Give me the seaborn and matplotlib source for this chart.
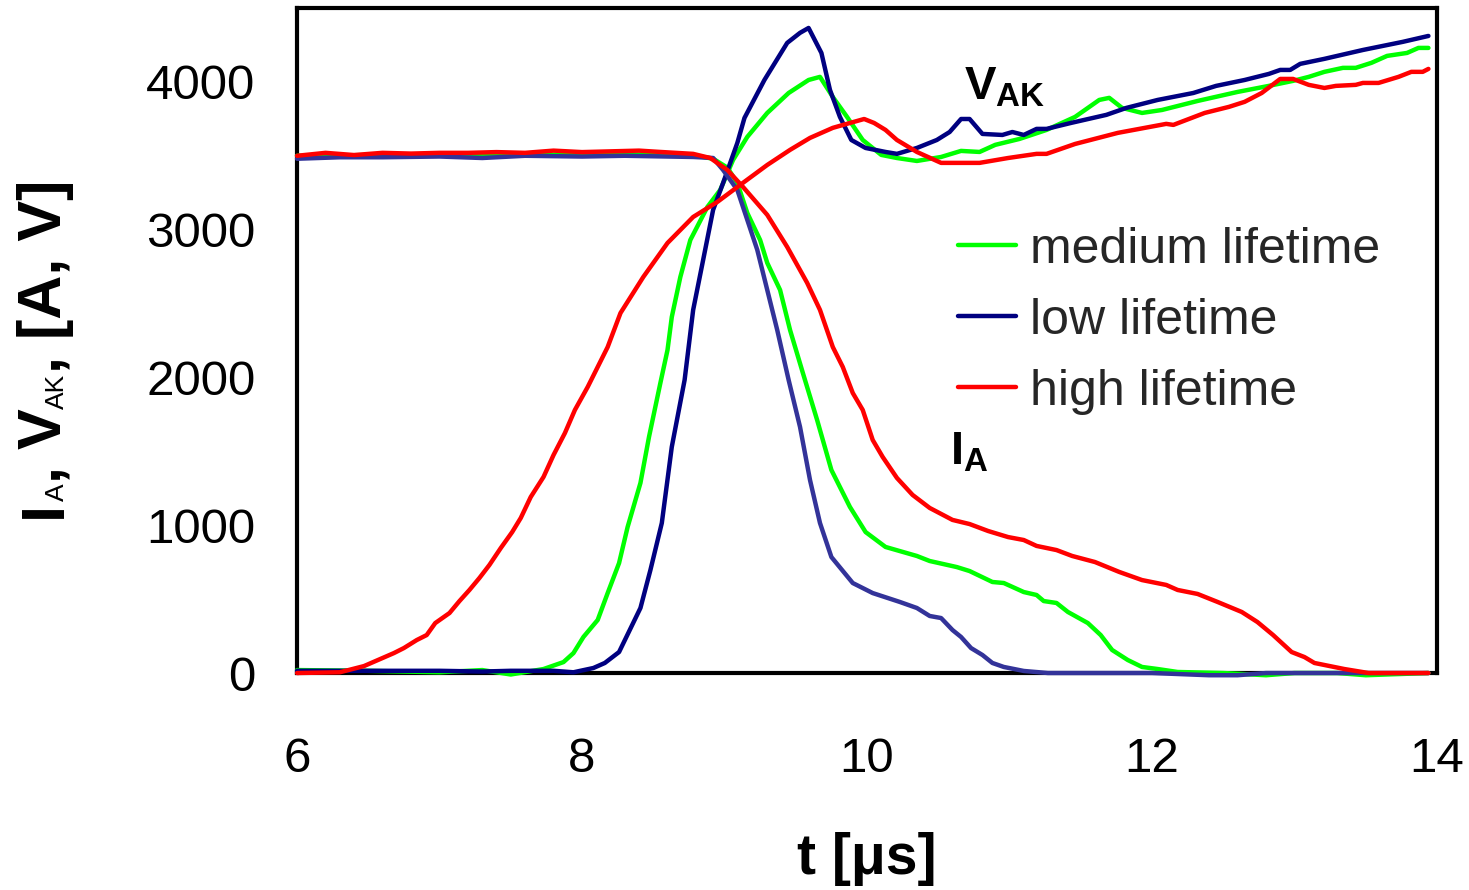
import matplotlib
matplotlib.use("Agg")
import matplotlib.pyplot as plt
import seaborn as sns

# ---- turn-off waveforms: t in µs, anode current in A, anode-cathode voltage in V ----
# low lifetime
t_low_v = [6.0, 6.5, 7.0, 7.3, 7.5, 7.8, 7.94, 8.08, 8.16, 8.26, 8.41, 8.48, 8.56, 8.63,
           8.72, 8.78, 8.85, 8.92, 8.99, 9.09, 9.14, 9.28, 9.44, 9.53, 9.59, 9.68, 9.74,
           9.81, 9.89, 9.99, 10.13, 10.21, 10.35, 10.49, 10.58, 10.66, 10.72, 10.81, 10.95,
           11.02, 11.10, 11.19, 11.26, 11.43, 11.68, 11.82, 12.04, 12.29, 12.45, 12.65,
           12.82, 12.90, 12.97, 13.04, 13.21, 13.48, 13.76, 13.94]
v_low = [15, 15, 15, 10, 15, 15, 5, 34, 68, 142, 440, 697, 1015, 1530,
         1983, 2457, 2795, 3134, 3316, 3587, 3756, 4013, 4264, 4332, 4365, 4196, 3946,
         3763, 3607, 3553, 3526, 3513, 3553, 3607, 3661, 3749, 3749, 3648, 3641,
         3661, 3641, 3682, 3682, 3722, 3777, 3824, 3878, 3925, 3973, 4013,
         4054, 4081, 4081, 4122, 4156, 4216, 4271, 4311]
t_low_i = [6.0, 6.3, 6.6, 7.0, 7.3, 7.6, 8.0, 8.3, 8.6, 8.78, 8.92, 8.99, 9.09, 9.16,
           9.23, 9.30, 9.37, 9.45, 9.53, 9.60, 9.67, 9.75, 9.90, 10.04, 10.23, 10.35,
           10.44, 10.52, 10.60, 10.66, 10.73, 10.81, 10.88, 10.96, 11.10, 11.27, 11.6,
           12.0, 12.4, 12.6, 12.8, 13.2, 13.6, 13.94]
i_low = [3480, 3490, 3490, 3495, 3485, 3500, 3495, 3500, 3495, 3492, 3485, 3404, 3269, 3066,
         2863, 2592, 2321, 1983, 1665, 1306, 1015, 785, 609, 541, 481, 440,
         386, 372, 291, 244, 169, 122, 68, 41, 14, 0, 0,
         0, -15, -15, 0, 0, 0, 0]

# medium lifetime
t_med_v = [6.0, 6.5, 7.0, 7.3, 7.5, 7.73, 7.87, 7.94, 8.01, 8.11, 8.18, 8.26, 8.32, 8.41,
           8.47, 8.55, 8.60, 8.63, 8.69, 8.76, 8.88, 8.97, 9.06, 9.16, 9.30, 9.45, 9.59,
           9.67, 9.76, 9.86, 9.97, 10.10, 10.21, 10.35, 10.52, 10.66, 10.79, 10.90, 11.07,
           11.26, 11.46, 11.63, 11.70, 11.79, 11.93, 12.07, 12.32, 12.60, 12.82, 12.99,
           13.10, 13.21, 13.34, 13.43, 13.54, 13.65, 13.79, 13.87, 13.94]
v_med = [20, 15, 5, 20, -10, 27, 74, 135, 244, 359, 541, 744, 988, 1286,
         1597, 1963, 2186, 2409, 2680, 2930, 3154, 3269, 3472, 3628, 3790, 3925, 4013,
         4034, 3898, 3763, 3607, 3506, 3485, 3465, 3492, 3533, 3526, 3574, 3614,
         3675, 3763, 3878, 3892, 3824, 3790, 3810, 3871, 3932, 3973, 4007,
         4034, 4068, 4095, 4095, 4129, 4176, 4196, 4230, 4230]
t_med_i = [6.0, 6.5, 7.0, 7.5, 8.0, 8.5, 8.8, 8.92, 9.02, 9.09, 9.16, 9.25, 9.30, 9.39,
           9.46, 9.55, 9.65, 9.75, 9.88, 9.99, 10.13, 10.35, 10.44, 10.63, 10.72, 10.88,
           10.96, 11.10, 11.19, 11.24, 11.33, 11.41, 11.55, 11.64, 11.72, 11.83, 11.93,
           12.04, 12.18, 12.5, 12.8, 13.0, 13.3, 13.5, 13.94]
i_med = [3500, 3505, 3500, 3510, 3505, 3510, 3500, 3480, 3420, 3316, 3113, 2930, 2775, 2592,
         2321, 2030, 1712, 1374, 1124, 954, 853, 792, 758, 717, 690, 616,
         609, 548, 528, 487, 474, 413, 338, 257, 156, 88, 41,
         27, 7, 0, -15, 0, 0, -15, 0]

# high lifetime
t_high_v = [6.0, 6.3, 6.47, 6.68, 6.75, 6.84, 6.91, 6.97, 7.07, 7.14, 7.21, 7.28, 7.35,
            7.43, 7.51, 7.57, 7.64, 7.73, 7.80, 7.88, 7.95, 8.04, 8.18, 8.27, 8.43, 8.60,
            8.78, 8.95, 9.11, 9.30, 9.46, 9.60, 9.76, 9.88, 9.98, 10.05, 10.13, 10.21,
            10.35, 10.52, 10.79, 10.99, 11.19, 11.26, 11.46, 11.76, 12.10, 12.15, 12.37,
            12.54, 12.65, 12.77, 12.90, 12.99, 13.10, 13.21, 13.29, 13.43, 13.48, 13.59,
            13.73, 13.82, 13.90, 13.94]
v_high = [0, 5, 47, 135, 169, 223, 257, 338, 406, 487, 562, 643, 731,
          846, 954, 1049, 1191, 1327, 1475, 1624, 1780, 1936, 2206, 2436, 2680, 2910,
          3086, 3188, 3303, 3438, 3540, 3621, 3689, 3722, 3749, 3722, 3675, 3607,
          3526, 3452, 3452, 3485, 3513, 3513, 3580, 3655, 3716, 3709, 3790,
          3831, 3865, 3925, 4020, 4020, 3980, 3959, 3973, 3980, 3993, 3993,
          4034, 4068, 4068, 4088]
t_high_i = [6.0, 6.2, 6.4, 6.6, 6.8, 7.0, 7.2, 7.4, 7.6, 7.8, 8.0, 8.2, 8.4, 8.55, 8.78,
            8.90, 9.02, 9.13, 9.30, 9.44, 9.58, 9.67, 9.76, 9.83, 9.90, 9.97, 10.04,
            10.11, 10.21, 10.32, 10.44, 10.60, 10.72, 10.85, 10.99, 11.10, 11.19, 11.33,
            11.44, 11.60, 11.77, 11.93, 12.10, 12.18, 12.32, 12.46, 12.63, 12.74, 12.85,
            12.98, 13.07, 13.14, 13.35, 13.52, 13.94]
i_high = [3500, 3520, 3505, 3520, 3515, 3520, 3520, 3525, 3520, 3535, 3525, 3530, 3535, 3526, 3513,
          3485, 3404, 3289, 3100, 2883, 2640, 2457, 2206, 2071, 1895, 1780, 1577,
          1462, 1320, 1205, 1117, 1036, 1008, 961, 920, 900, 860, 832,
          792, 751, 684, 629, 596, 562, 535, 481, 413, 345, 257,
          142, 108, 68, 27, 0, 0]

legend_labels = ["medium lifetime", "low lifetime", "high lifetime"]
x_ticks = [6, 8, 10, 12, 14]
y_ticks = [0, 1000, 2000, 3000, 4000]

C_MED = "#00ff00"
C_LOW_V = "#000080"
C_LOW_I = "#333399"
C_HIGH = "#ff0000"

sns.set_theme(style="white")
plt.rcParams["font.family"] = ["Liberation Sans", "DejaVu Sans"]
plt.rcParams["mathtext.fontset"] = "custom"
plt.rcParams["mathtext.rm"] = "Liberation Sans"
plt.rcParams["mathtext.bf"] = "Liberation Sans:bold"
plt.rcParams["mathtext.it"] = "Liberation Sans:italic"

fig = plt.figure(figsize=(14.69, 8.9), dpi=100)
ax = fig.add_axes([0.2022, 0.2438, 0.7760, 0.7472])

traces = [
    (t_med_v, v_med, C_MED, legend_labels[0]),
    (t_med_i, i_med, C_MED, None),
    (t_low_v, v_low, C_LOW_V, legend_labels[1]),
    (t_low_i, i_low, C_LOW_I, None),
    (t_high_v, v_high, C_HIGH, legend_labels[2]),
    (t_high_i, i_high, C_HIGH, None),
]
for t, y, col, lab in traces:
    kw = {"label": lab} if lab else {}
    sns.lineplot(x=t, y=y, color=col, linewidth=3.2, sort=False, estimator=None,
                 ax=ax, zorder=3, clip_on=False, **kw)

ax.set_xlim(6, 14)
ax.set_ylim(0, 4500)
ax.set_xticks(x_ticks)
ax.set_xticklabels([str(v) for v in x_ticks])
ax.set_yticks(y_ticks)
ax.set_yticklabels([str(v) for v in y_ticks])
for s in ax.spines.values():
    s.set_linewidth(3)
    s.set_color("black")
ax.tick_params(axis="both", direction="in", length=11.5, width=3, color="black",
               labelsize=35.5, labelcolor="black")
ax.tick_params(axis="y", pad=30)
ax.tick_params(axis="x", pad=46)

ax.set_xlabel("t [μs]", fontsize=41, fontweight="bold", color="black", va="center")
ax.xaxis.set_label_coords(0.5, -0.28)
ax.set_ylabel("")

# rotated y label built from pieces so the subscripts can be small
pieces = [
    ("I", 44, "bold", 0),
    ("A", 19, "normal", 2),
    (", V", 44, "bold", 0),
    ("AK", 19, "normal", 2),
    (", [A, V]", 44, "bold", 0),
]
x0, y0 = 0.0415, 0.418
prev = None
for txt, size, weight, shift in pieces:
    if prev is None:
        prev = fig.text(x0, y0, txt, rotation=90, rotation_mode="anchor", ha="left",
                        va="baseline", fontsize=size, fontweight=weight, color="black")
    else:
        prev = ax.annotate(txt, xy=(x0, 1), xycoords=("figure fraction", prev),
                           xytext=(shift, 0), textcoords="offset points",
                           rotation=90, rotation_mode="anchor", ha="left",
                           va="baseline", fontsize=size, fontweight=weight,
                           color="black", annotation_clip=False)

ax.text(10.68, 3880, r"$\mathbf{V_{AK}}$", fontsize=34, color="black",
        ha="left", va="baseline")
ax.text(10.58, 1410, r"$\mathbf{I}_{\mathbf{A}}$", fontsize=34, color="black",
        ha="left", va="baseline")

ax.legend(loc="center left", bbox_to_anchor=(0.58, 0.5295), frameon=False,
          fontsize=36, handlelength=1.15, handletextpad=0.28, labelspacing=0.5,
          borderpad=0, borderaxespad=0)

fig.savefig("out.png", dpi=100, facecolor="white")
